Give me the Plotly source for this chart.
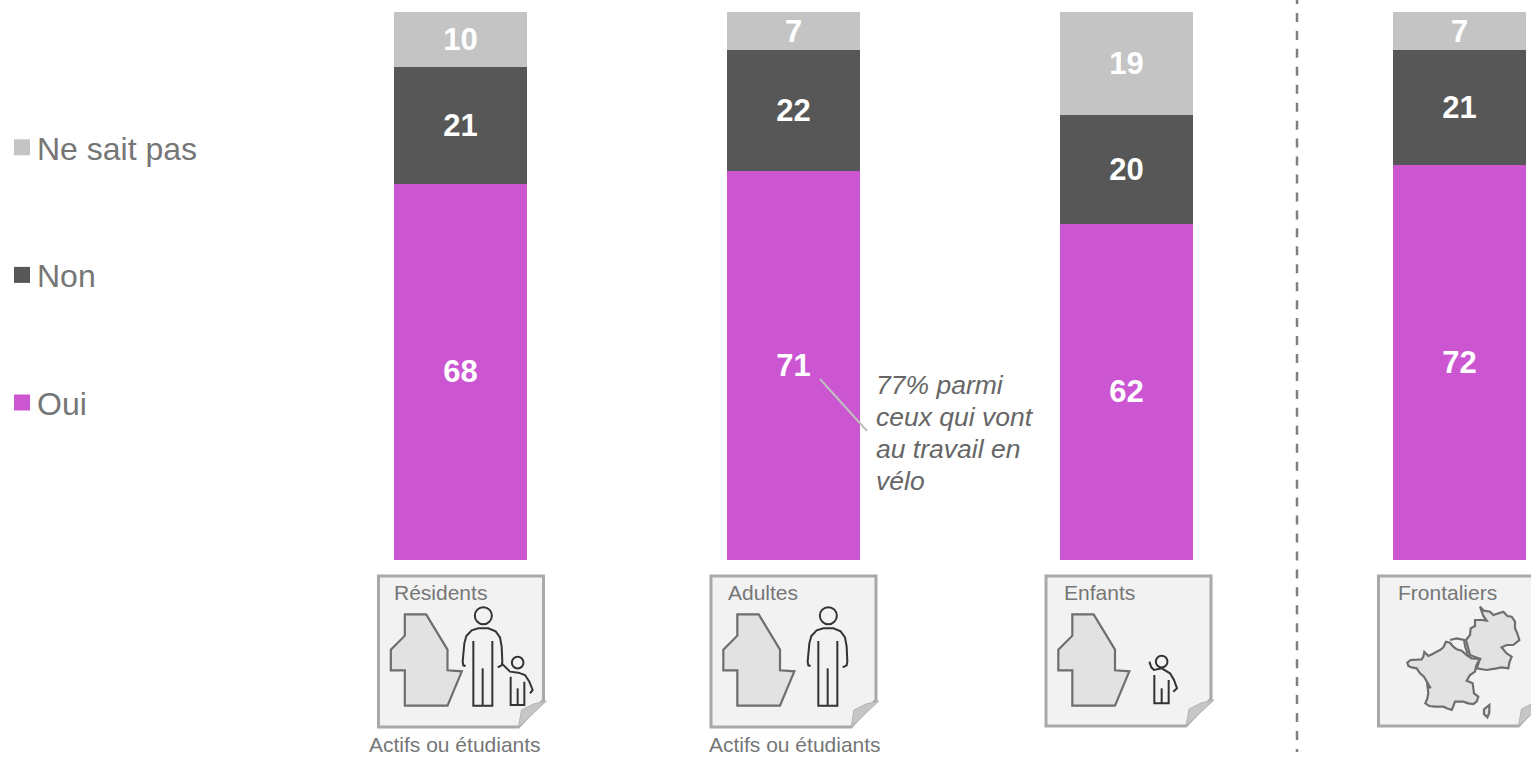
import plotly.graph_objects as go

W, H = 1531, 757
categories = ["Résidents", "Adultes", "Enfants", "Frontaliers"]
series_names = ["Oui", "Non", "Ne sait pas"]
oui = [68, 71, 62, 72]
non = [21, 22, 20, 21]
nsp = [10, 7, 19, 7]
colors = ["#CC56D2", "#575757", "#C4C4C4"]
card_notes = ["Actifs ou étudiants", "Actifs ou étudiants", "", ""]
note_lines = ["77% parmi", "ceux qui vont", "au travail en", "vélo"]

def X(x): return x / W
def Y(y): return 1 - y / H

fig = go.Figure()
# legend entries, top to bottom
for name, col in zip(series_names[::-1], colors[::-1]):
    fig.add_trace(go.Scatter(x=[None], y=[None], mode="markers", name=name, legendgroup=name,
                             marker=dict(symbol="square", size=16, color=col)))
for name, vals, col in zip(series_names, [oui, non, nsp], colors):
    fig.add_trace(go.Bar(x=categories, y=vals, name=name, legendgroup=name, showlegend=False,
                         marker=dict(color=col, line=dict(width=0)), text=vals, textposition="inside",
                         insidetextanchor="middle", textangle=0, constraintext="none",
                         insidetextfont=dict(family="Liberation Sans", size=31, color="white", weight="bold"),
                         hoverinfo="skip"))

shapes, annots = [], []

def line_path(pts, closed=False):
    s = "M" + " L".join(f"{X(a):.5f},{Y(b):.5f}" for a, b in pts)
    return s + (" Z" if closed else "")

def zoomed(pts, ox, oy=560):
    return [(ox + a / 3, oy + b / 3) for a, b in pts]

def add_path(pts, closed=False, line="#333333", width=2, fill=None):
    shapes.append(dict(type="path", path=line_path(pts, closed), xref="paper", yref="paper",
                       line=dict(color=line, width=width),
                       fillcolor=fill if fill else "rgba(0,0,0,0)"))

def add_head(cx, cy, r):
    shapes.append(dict(type="circle", xref="paper", yref="paper", x0=X(cx - r), x1=X(cx + r),
                       y0=Y(cy + r), y1=Y(cy - r), line=dict(color="#333333", width=2)))

def text(x, y, s, size, color, anchor="left", italic=False):
    annots.append(dict(x=X(x), y=Y(y), xref="paper", yref="paper", text=s, showarrow=False,
                       xanchor=anchor, yanchor="middle", borderpad=0,
                       font=dict(family="Liberation Sans", size=size, color=color,
                                 style="italic" if italic else "normal")))

def card(L, T, R, B):
    add_path([(L, T), (R, T), (R, B - 27), (R - 25, B), (L, B)], True, "#A9A9A9", 3, "#F2F2F2")
    add_path([(R - 25, B), (R - 22, B - 17), (R - 10, B - 23), (R + 3, B - 26)], True, "#B4B4B4", 1, "#C6C6C6")

lefts = [378.5, 711, 1046, 1378.5]
rights = [543.5, 876, 1211, 1543.5]
bottoms = [727, 727, 726, 726]
labels_x = [393, 727, 1062.5, 1397]
for L, R, B, c, lx in zip(lefts, rights, bottoms, categories, labels_x):
    card(L, 576, R, B)
    text(lx, 592, c, 21, "#767676")

# region outline used on the first three cards
region = [(79, 115), (143, 115), (207, 221), (207, 283), (250, 286), (207, 389), (79, 389),
          (79, 283), (37, 283), (37, 221), (79, 179)]
for L in lefts[:3]:
    add_path([(L + a / 3, 576 + b / 3) for a, b in region], True, "#6E6E6E", 2.2, "#E2E2E2")

def person(ox, dx, dy=0):
    pts = lambda P: zoomed([(a + dx, b + dy) for a, b in P], ox)
    add_head(ox + (415 + dx) / 3, 560 + (167 + dy) / 3, 8.5)
    add_path(pts([(362, 318), (355, 316), (353, 305), (358, 250), (364, 228), (380, 211), (400, 205),
                  (430, 205), (452, 214), (465, 232), (470, 260), (472, 305), (470, 316), (458, 322)]))
    add_path(pts([(385, 243), (385, 437), (442, 437), (442, 243)]))
    add_path(pts([(413, 325), (413, 437)]))

person(350, -15)
person(690, 0)
# child, first card
add_head(350 + 503 / 3, 560 + 308 / 3, 5.8)
add_path(zoomed([(455, 310), (480, 335), (505, 338), (525, 345), (538, 365), (548, 390), (540, 400)], 350))
add_path(zoomed([(482, 350), (482, 435), (523, 435), (523, 365)], 350))
add_path(zoomed([(503, 385), (503, 435)], 350))
# child, third card
add_head(1030 + 395 / 3, 560 + 305 / 3, 5.8)
add_path(zoomed([(358, 305), (364, 322), (372, 330), (395, 325), (420, 340), (432, 360), (441, 385), (430, 395)], 1030))
add_path(zoomed([(373, 345), (373, 430), (416, 430), (416, 360)], 1030))
add_path(zoomed([(395, 385), (395, 430)], 1030))

# France, Belgium, Germany, Corsica on the fourth card
france = [(382, 308), (392, 300), (412, 299), (425, 298), (430, 290), (433, 276), (445, 288), (458, 282),
          (470, 275), (480, 270), (490, 262), (498, 245), (510, 248), (520, 260), (530, 268), (545, 272),
          (560, 285), (575, 295), (600, 297), (592, 310), (588, 320), (585, 335), (570, 345), (560, 362),
          (578, 370), (580, 385), (582, 400), (595, 410), (590, 425), (580, 432), (565, 430), (550, 425),
          (525, 425), (520, 438), (515, 450), (500, 445), (490, 440), (465, 440), (448, 438), (436, 430),
          (442, 415), (445, 400), (442, 375), (452, 385), (432, 350), (420, 340), (410, 325), (395, 322), (385, 318)]
belgium = [(510, 240), (530, 235), (552, 240), (556, 262), (564, 284)]
germany = [(600, 140), (612, 152), (630, 155), (640, 165), (670, 155), (682, 168), (695, 170), (705, 185),
           (705, 205), (712, 220), (718, 240), (700, 255), (680, 255), (665, 262), (680, 280), (695, 290),
           (688, 308), (685, 325), (665, 322), (650, 325), (620, 330), (590, 325), (600, 297), (570, 285),
           (558, 240), (570, 225), (572, 205), (585, 198), (585, 180), (605, 180), (620, 182), (610, 168)]
corsica = [(612, 448), (628, 435), (628, 458), (622, 472), (612, 462)]
add_path(zoomed(germany, 1280), True, "#6E6E6E", 2.2, "#E2E2E2")
add_path(zoomed(france, 1280), True, "#6E6E6E", 2.2, "#E2E2E2")
add_path(zoomed(belgium, 1280), False, "#6E6E6E", 2.2)
add_path(zoomed(corsica, 1280), True, "#6E6E6E", 2.2, "#E2E2E2")

# vertical dashed separator
shapes.append(dict(type="line", xref="paper", yref="paper", x0=X(1297), x1=X(1297), y0=Y(-5), y1=Y(752),
                   line=dict(color="#7F7F7F", width=2.5, dash="9px,8.95px")))
# callout leader
shapes.append(dict(type="line", xref="paper", yref="paper", x0=X(820), x1=X(867), y0=Y(379), y1=Y(431),
                   line=dict(color="#BFBFBF", width=2)))

for x, n in zip([455, 795], card_notes[:2]):
    text(x, 744.5, n, 21, "#767676", "center")
for i, s in enumerate(note_lines):
    text(875, 385 + 32 * i, s, 26.5, "#666666", italic=True)

fig.update_layout(
    width=W, height=H, autosize=False, margin=dict(l=0, r=0, t=0, b=0, pad=0),
    paper_bgcolor="white", plot_bgcolor="white",
    barmode="stack", barnorm="percent", bargap=0.6,
    xaxis=dict(type="category", categoryorder="array", categoryarray=categories,
               range=[-460.5 / 333, (W - 460.5) / 333], domain=[0, 1], visible=False),
    yaxis=dict(range=[0, 100], domain=[1 - 560 / H, 1 - 12 / H], visible=False),
    legend=dict(x=2 / W, y=1 - 120 / H, xanchor="left", yanchor="top", traceorder="grouped",
                tracegroupgap=83, bgcolor="rgba(0,0,0,0)",
                font=dict(family="Liberation Sans", size=32, color="#767676")),
    shapes=shapes, annotations=annots,
)
post = """
document.documentElement.style.overflow = 'hidden';
document.body.style.margin = '0';
document.querySelectorAll('.legendtext').forEach(function (t) {
  t.setAttribute('x', parseFloat(t.getAttribute('x')) - 5);
});
"""
fig.write_html("out.html", config=dict(displayModeBar=False), post_script=post)
